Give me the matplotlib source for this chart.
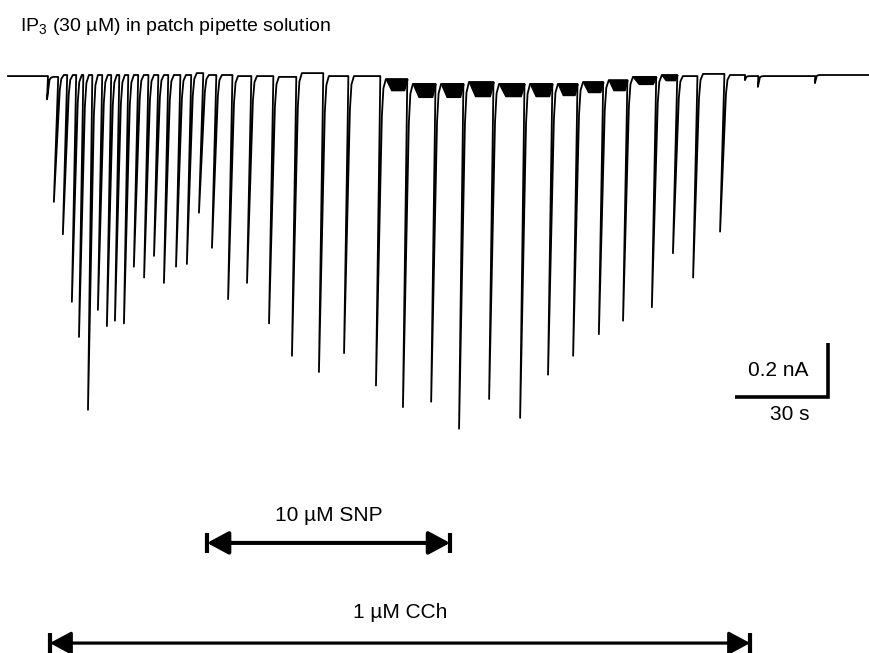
import numpy as np
import matplotlib.pyplot as plt

plt.rcParams['font.family'] = ['Liberation Sans', 'DejaVu Sans']
plt.rcParams['mathtext.fontset'] = 'custom'
plt.rcParams['mathtext.rm'] = 'Liberation Sans'

# spike tip times (s) and tip currents (nA)
spike_t = [12.6, 14.8, 17.7, 20.6, 22.9, 25.8, 29.0, 31.9, 34.5, 37.4,
           40.6, 43.9, 47.1, 50.3, 54.2, 57.7, 61.6, 65.8, 71.0, 77.1,
           84.2, 91.6, 100.3, 108.4, 118.7, 127.4, 136.5, 145.5, 155.2, 165.2,
           174.2, 182.3, 190.6, 198.4, 207.7, 214.5, 221.0, 229.7,
           237.7, 241.9, 260.3]
spike_amp = [-0.09, -0.47, -0.59, -0.84, -0.97, -1.24, -0.87, -0.93, -0.91, -0.92,
             -0.71, -0.75, -0.67, -0.77, -0.71, -0.70, -0.51, -0.64, -0.83, -0.77,
             -0.92, -1.04, -1.10, -1.03, -1.15, -1.23, -1.21, -1.31, -1.20, -1.27,
             -1.11, -1.04, -0.96, -0.91, -0.86, -0.66, -0.75, -0.58,
             -0.019, -0.044, -0.03]
# baseline (top of noise band) and bottom of noise band in each gap (nA)
gap_top = [-0.004, -0.007, 0.0, 0.0, 0.0, 0.0, 0.0, 0.0, 0.0, 0.0,
           0.0, 0.0, 0.0, 0.0, 0.0, 0.0, 0.007, 0.0, 0.0, -0.004,
           -0.004, -0.007, 0.007, -0.004, -0.004, -0.015, -0.033, -0.033, -0.026, -0.033,
           -0.033, -0.033, -0.026, -0.019, -0.007, 0.0, -0.004, 0.004,
           0.0, -0.004, -0.004, 0.0]
gap_bot = [-0.004, -0.007, 0.0, 0.0, 0.0, 0.0, 0.0, 0.0, 0.0, 0.0,
           0.0, 0.0, 0.0, 0.0, 0.0, 0.0, 0.007, 0.0, 0.0, -0.004,
           -0.004, -0.007, 0.007, -0.004, -0.004, -0.056, -0.081, -0.081, -0.078, -0.078,
           -0.078, -0.074, -0.063, -0.056, -0.033, -0.019, -0.004, 0.004,
           0.0, -0.004, -0.004, 0.0]
t_end = 277.7

fig = plt.figure(figsize=(8.69, 6.53), dpi=100)
ax = fig.add_axes([0, 0, 1, 1])
ax.set_xlim(-8 / 3.1, 861 / 3.1)
ax.set_ylim(-578 / 270, 75 / 270)
ax.axis('off')

# build the trace
xs, ys = [0.0], [gap_top[0]]
seg_start = [0.0]
seg_end = []
for i, (t, a) in enumerate(zip(spike_t, spike_amp)):
    top, nxt = gap_top[i], gap_top[i + 1]
    d = top - a
    ln = 1.4 * min(1.0, d / 0.4)
    seg_end.append(t + ln)
    xs += [t + ln, t, t + ln + 0.5, t + ln + 1.0, t + ln + 1.8]
    ys += [top, a, nxt - 0.12 * d, nxt - 0.03 * d, nxt]
    seg_start.append(t + ln + 1.8)
seg_end.append(t_end)
xs.append(t_end)
ys.append(gap_top[-1])
ax.plot(xs, ys, color='black', lw=1.3, solid_joinstyle='round')

# noisy baseline bands
for k in range(len(gap_top)):
    if gap_bot[k] < gap_top[k]:
        a0, a1 = seg_start[k], seg_end[k]
        w = a1 - a0
        bx = [a0, a0 + 0.25 * w, a1 - 0.15 * w, a1]
        ax.fill_between(bx, [gap_top[k]] * 4,
                        [gap_top[k], gap_bot[k], gap_bot[k], gap_top[k]],
                        color='black', lw=1.0)

# title
ax.text(3.9, 0.178, r'IP$_\mathrm{3}$ (30 µM) in patch pipette solution',
        fontsize=14, ha='left', va='center')

# scale bars
ax.plot([234.5, 264.5, 264.5], [-1.193, -1.193, -0.993], color='black',
        lw=2.6, solid_joinstyle='miter', solid_capstyle='butt')
ax.text(248.4, -1.093, '0.2 nA', fontsize=15, ha='center', va='center')
ax.text(252.3, -1.259, '30 s', fontsize=15, ha='center', va='center')

# drug application bars
bars = [(64.2, 142.6, -1.733, '10 µM SNP', -1.63, 2.9),
        (13.5, 239.4, -2.104, '1 µM CCh', -1.989, 2.3)]
for x0, x1, y, label, ty, lw in bars:
    ax.annotate('', xy=(x0, y), xytext=(x1, y),
                arrowprops=dict(arrowstyle='<|-|>,head_length=1.3,head_width=0.7',
                                mutation_scale=10, color='black', lw=lw,
                                shrinkA=0, shrinkB=0))
    ax.plot([x0, x1], [y, y], ls='none', marker='|', markersize=15,
            markeredgewidth=3, color='black')
    ax.text((x0 + x1) / 2, ty, label, fontsize=15, ha='center', va='center')

fig.savefig('out.png', dpi=100)
